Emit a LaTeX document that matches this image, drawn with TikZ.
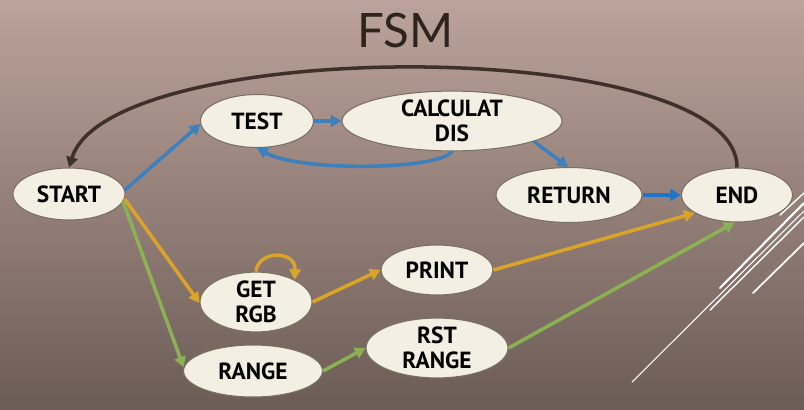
\documentclass[tikz,border=0pt]{standalone}
\usepackage{fontspec}
\usetikzlibrary{shapes.geometric,arrows.meta}
\newfontfamily\nodefontfam{PT Sans}
\newfontfamily\titlefontfam{Lato}
\definecolor{bgtop}{RGB}{188,163,155}
\definecolor{bgbot}{RGB}{108,92,86}
\definecolor{nodefill}{RGB}{243,239,226}
\definecolor{nodeborder}{RGB}{120,112,96}
\definecolor{eblue}{RGB}{60,128,190}
\definecolor{ebright}{RGB}{30,118,204}
\definecolor{eorange}{RGB}{218,164,42}
\definecolor{egreen}{RGB}{140,176,84}
\definecolor{edark}{RGB}{62,48,42}
\definecolor{titlecol}{RGB}{46,36,30}
\tikzset{
  st/.style={ellipse, draw=nodeborder, line width=0.6pt, fill=nodefill, inner sep=0pt,
    align=center, font=\nodefontfam\bfseries\fontsize{13.3}{14.4}\selectfont, text=black},
  edge/.style={line width=2pt, -{Triangle[length=6pt,width=6.5pt]}},
  deco/.style={white, line cap=round}
}
\begin{document}
\begin{tikzpicture}[x=0.02cm, y=-0.02cm]
\shade[top color=bgtop, bottom color=bgbot] (0,0) rectangle (804,409);
\useasboundingbox (0,0) rectangle (804,409);
% decorative lines
\draw[deco, line width=0.6pt] (632,382) -- (804,211);
\draw[deco, line width=0.8pt] (710,310) -- (804,217);
\draw[deco, line width=1.2pt] (720,288) -- (804,203);
\draw[deco, line width=1pt] (753,293) -- (804,243);
\draw[deco, line width=0.8pt] (780,215) -- (804,193);
% title
\node[anchor=base, font=\titlefontfam\fontsize{27}{30}\selectfont, text=titlecol] (title) at (405.5,47) {FSM};
% nodes
\node[st, minimum width=2.24cm, minimum height=1.04cm] (start) at (69,194) {START};
\node[st, minimum width=2.26cm, minimum height=1.06cm] (test) at (257,121) {TEST};
\node[st, minimum width=4.40cm, minimum height=1.06cm] (calc) at (452,121) {CALCULAT\\DIS};
\node[st, minimum width=2.92cm, minimum height=1.10cm] (ret) at (569,195) {RETURN};
\node[st, minimum width=2.22cm, minimum height=1.08cm] (fin) at (737,195) {END};
\node[st, minimum width=2.24cm, minimum height=1.06cm] (get) at (256,302) {GET\\RGB};
\node[st, minimum width=2.24cm, minimum height=1.00cm] (print) at (437,270) {PRINT};
\node[st, minimum width=2.78cm, minimum height=1.04cm] (range) at (253,371) {RANGE};
\node[st, minimum width=2.84cm, minimum height=1.00cm] (rst) at (437,348) {RST\\RANGE};
% edges
\draw[edge, edark] (fin.north) .. controls (737,35) and (110,35) .. (start.north);
\draw[edge, eblue] (start.4) -- (test.183);
\draw[edge, eblue] (test.east) -- (calc.west);
\draw[edge, eblue] (calc.south) .. controls (440,170) and (300,172) .. (test.south);
\draw[edge, eblue] (calc.-14) -- (ret.92);
\draw[edge, ebright] (ret.east) -- (fin.west);
\draw[edge, eorange] (start.-5) -- (get.181);
\draw[edge, egreen] (start.-8) -- (range.177);
\draw[edge, eorange] (get.north) .. controls (258,250) and (296,250) .. (get.30);
\draw[edge, eorange] (get.east) -- (print.180);
\draw[edge, eorange] (print.east) -- (fin.203);
\draw[edge, egreen] (range.east) -- (rst.180);
\draw[edge, egreen] (rst.east) -- (fin.265);
\end{tikzpicture}
\end{document}
